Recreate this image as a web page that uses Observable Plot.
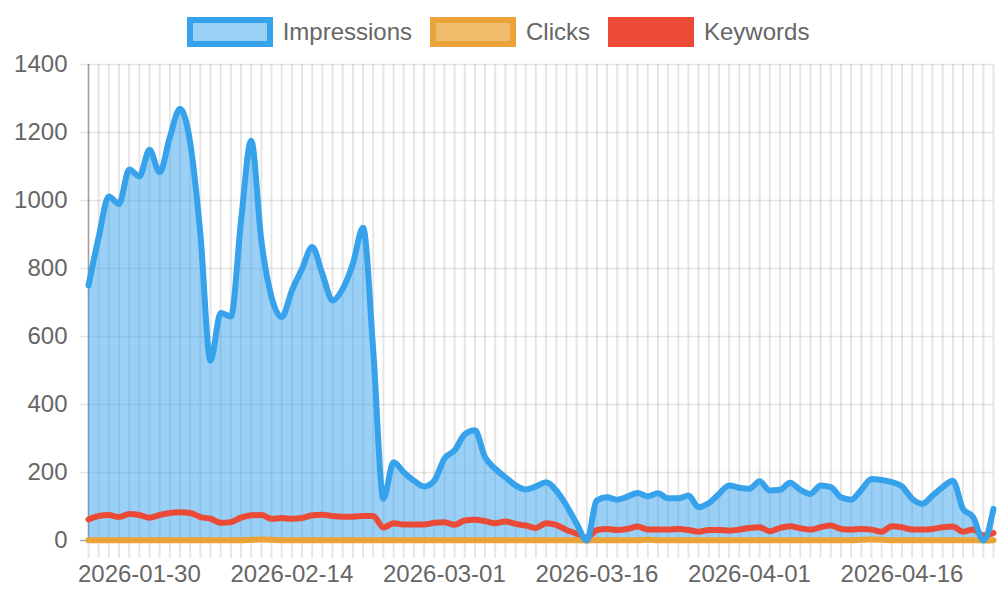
<!DOCTYPE html>
<html>
<head>
<meta charset="utf-8">
<script src="https://cdn.jsdelivr.net/npm/d3@7"></script>
<script src="https://cdn.jsdelivr.net/npm/@observablehq/plot@0.6"></script>
<style>
  html, body { margin: 0; padding: 0; background: #fff; }
  body { width: 1000px; height: 600px; overflow: hidden; font-family: "Liberation Sans", Arial, sans-serif; }
  #legend { height: 37px; padding-top: 13px; display: flex; justify-content: center; align-items: center; padding-right: 4px; }
  .item { display: flex; align-items: center; margin: 0 9px; }
  .box { width: 86px; height: 30px; box-sizing: border-box; border: 6px solid; }
  .label { margin-left: 10px; font-size: 24px; color: #666; line-height: 30px; }
</style>
</head>
<body>
<div id="legend"></div>
<div id="chart"></div>
<script>
// ---- data ----
const dates = [
  "2026-01-25","2026-01-26","2026-01-27","2026-01-28","2026-01-29","2026-01-30","2026-01-31",
  "2026-02-01","2026-02-02","2026-02-03","2026-02-04","2026-02-05","2026-02-06","2026-02-07",
  "2026-02-08","2026-02-09","2026-02-10","2026-02-11","2026-02-12","2026-02-13","2026-02-14",
  "2026-02-15","2026-02-16","2026-02-17","2026-02-18","2026-02-19","2026-02-20","2026-02-21",
  "2026-02-22","2026-02-23","2026-02-24","2026-02-25","2026-02-26","2026-02-27","2026-02-28",
  "2026-03-01","2026-03-02","2026-03-03","2026-03-04","2026-03-05","2026-03-06","2026-03-07",
  "2026-03-08","2026-03-09","2026-03-10","2026-03-11","2026-03-12","2026-03-13","2026-03-14",
  "2026-03-15","2026-03-16","2026-03-17","2026-03-18","2026-03-19","2026-03-20","2026-03-21",
  "2026-03-22","2026-03-23","2026-03-24","2026-03-25","2026-03-26","2026-03-27","2026-03-28",
  "2026-03-30","2026-03-31",
  "2026-04-01","2026-04-02","2026-04-03","2026-04-04","2026-04-05","2026-04-06","2026-04-07",
  "2026-04-08","2026-04-09","2026-04-10","2026-04-11","2026-04-12","2026-04-13","2026-04-14",
  "2026-04-15","2026-04-16","2026-04-17","2026-04-18","2026-04-19","2026-04-20","2026-04-21",
  "2026-04-22","2026-04-23","2026-04-24","2026-04-25"
];
const impressions = [
  750, 892, 1012, 990, 1091, 1071, 1149, 1083, 1186, 1270,
  1170, 902, 529, 669, 659, 940, 1176, 882, 716, 657,
  735, 799, 863, 784, 706, 740, 814, 920, 560, 123,
  230, 201, 176, 159, 176, 241, 265, 312, 324, 245,
  211, 186, 162, 150, 159, 171, 147, 103, 50, 0,
  118, 127, 120, 129, 140, 130, 139, 124, 124, 132,
  98, 110, 137, 162, 155, 152, 174, 147, 149, 170,
  149, 137, 162, 157, 127, 120, 149, 181, 178, 172,
  159, 123, 108, 132, 157, 176, 93, 69, 0, 93
];
const clicks = [
  1, 1, 1, 1, 1, 1, 1, 1, 1, 1,
  1, 1, 1, 1, 1, 1, 2, 3, 2, 1,
  1, 1, 1, 1, 1, 1, 1, 1, 1, 1,
  1, 1, 1, 1, 1, 1, 1, 1, 1, 1,
  1, 1, 1, 1, 1, 1, 1, 1, 1, 0,
  1, 1, 1, 1, 1, 2, 1, 1, 1, 1,
  1, 1, 1, 1, 1, 1, 1, 1, 1, 1,
  1, 1, 1, 1, 1, 1, 2, 3, 2, 1,
  1, 1, 1, 1, 1, 1, 1, 1, 0, 1
];
const keywords = [
  62, 72, 75, 69, 78, 75, 67, 75, 81, 83,
  81, 69, 64, 52, 54, 67, 74, 75, 64, 66,
  64, 66, 74, 76, 72, 70, 70, 72, 72, 38,
  51, 47, 47, 47, 52, 54, 46, 59, 61, 57,
  51, 56, 49, 44, 37, 51, 46, 31, 20, 8,
  31, 34, 31, 34, 41, 32, 32, 32, 34, 31,
  26, 31, 31, 29, 32, 37, 39, 27, 37, 42,
  36, 32, 39, 44, 34, 32, 34, 32, 26, 42,
  39, 32, 32, 34, 39, 41, 26, 32, 15, 22
];
const xTickLabels = ["2026-01-30","2026-02-14","2026-03-01","2026-03-16","2026-04-01","2026-04-16"];
const yTicks = [0, 200, 400, 600, 800, 1000, 1200, 1400];
const seriesNames = ["Impressions", "Clicks", "Keywords"];
const seriesStroke = ["rgb(54,162,235)", "rgb(235,162,54)", "rgb(234,74,54)"];
const seriesLegendFill = ["#9bd0f5", "#f1bb6c", "rgb(234,74,54)"];

// ---- legend ----
const legend = document.getElementById("legend");
seriesNames.forEach((name, i) => {
  const item = document.createElement("div");
  item.className = "item";
  const box = document.createElement("div");
  box.className = "box";
  box.style.borderColor = seriesStroke[i];
  box.style.background = seriesLegendFill[i];
  const label = document.createElement("span");
  label.className = "label";
  label.textContent = name;
  item.appendChild(box);
  item.appendChild(label);
  legend.appendChild(item);
});

// ---- chart ----
const data = dates.map((d, i) => ({date: d, impressions: impressions[i], clicks: clicks[i], keywords: keywords[i]}));

const chart = Plot.plot({
  width: 1000,
  height: 550,
  marginTop: 14,
  marginBottom: 60,
  marginLeft: 88,
  marginRight: 7,
  style: {fontFamily: "'Liberation Sans', Arial, sans-serif", fontSize: "24px", color: "#666", background: "white", overflow: "visible"},
  x: {type: "point", domain: dates, range: [88, 993], padding: 0, round: false},
  y: {domain: [0, 1400], range: [490, 14]},
  marks: [
    Plot.ruleY(yTicks, {stroke: "#000", strokeOpacity: 0.1, strokeWidth: 1.5, insetLeft: -8}),
    Plot.ruleX(dates, {x: d => d, y1: 1400, y2: 0, stroke: "#000", strokeOpacity: 0.1, strokeWidth: 2, insetBottom: -18}),
    Plot.ruleX([dates[0]], {x: d => d, y1: 1400, y2: 0, stroke: "#000", strokeOpacity: 0.3, strokeWidth: 1.5}),
    Plot.ruleY([0], {stroke: "#000", strokeOpacity: 0.25, strokeWidth: 1.5, insetLeft: -8}),
    Plot.areaY(data, {x: "date", y: "impressions", curve: "monotone-x", fill: seriesStroke[0], fillOpacity: 0.5}),
    Plot.lineY(data, {x: "date", y: "keywords", curve: "monotone-x", stroke: seriesStroke[2], strokeWidth: 6}),
    Plot.lineY(data, {x: "date", y: "clicks", curve: "monotone-x", stroke: seriesStroke[1], strokeWidth: 6}),
    Plot.lineY(data, {x: "date", y: "impressions", curve: "monotone-x", stroke: seriesStroke[0], strokeWidth: 6}),
    Plot.axisX({ticks: xTickLabels, tickSize: 0, tickPadding: 24, fontSize: 24, label: null}),
    Plot.axisY({ticks: yTicks, tickSize: 0, tickPadding: 21, fontSize: 24, label: null, tickFormat: d => String(d)})
  ]
});
document.getElementById("chart").appendChild(chart);
</script>
</body>
</html>
